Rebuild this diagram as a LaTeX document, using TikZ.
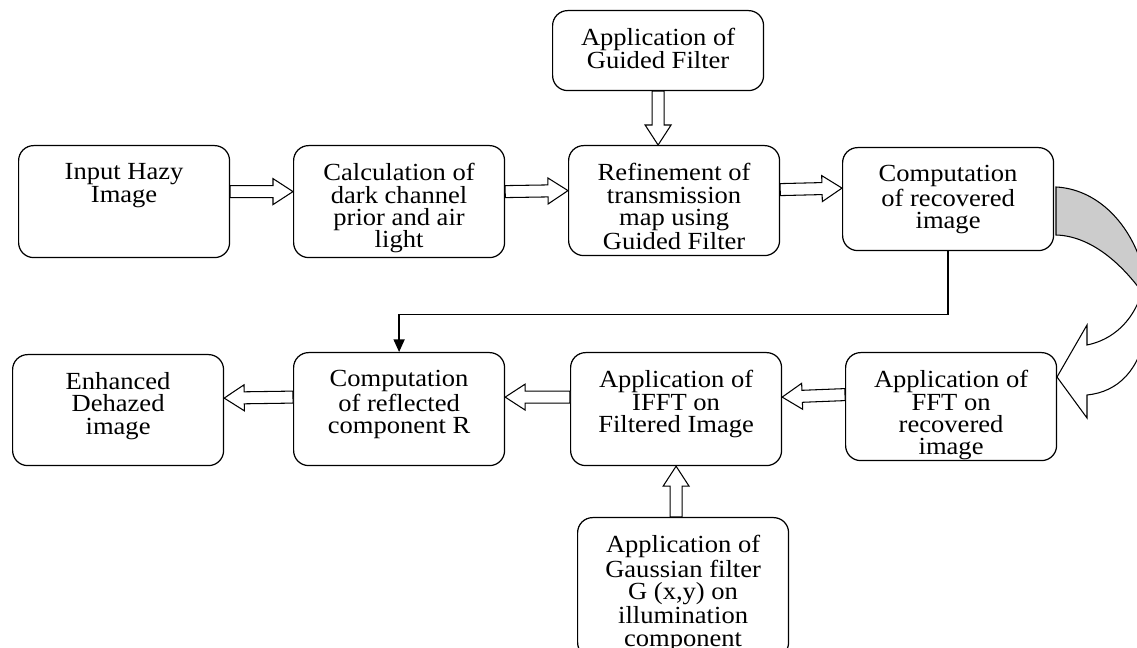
\documentclass[tikz,border=0pt]{standalone}
\usepackage{fontspec}
\setmainfont{Liberation Serif}[FakeStretch=1.08]
\usetikzlibrary{arrows.meta,calc}

\begin{document}
\begin{tikzpicture}[x=0.02cm, y=-0.02cm,
		box/.style={draw, line width=0.7pt, rounded corners=0.3cm, anchor=north west,
			inner xsep=0.11cm, inner ysep=0.36cm,
			execute at begin node={\begin{minipage}[c][#1][t]{4cm}\centering\fontsize{14}{12.7}\selectfont},
			execute at end node={\end{minipage}}},
		hollow/.style={draw, fill=white, line width=0.6pt, line join=miter, to path={
			($(\tikztostart)!0.12cm!90:(\tikztotarget)$)
			-- ($($(\tikztotarget)!0.4cm!(\tikztostart)$)!0.12cm!90:(\tikztotarget)$)
			-- ($($(\tikztotarget)!0.4cm!(\tikztostart)$)!0.26cm!90:(\tikztotarget)$)
			-- (\tikztotarget)
			-- ($($(\tikztotarget)!0.4cm!(\tikztostart)$)!0.26cm!-90:(\tikztotarget)$)
			-- ($($(\tikztotarget)!0.4cm!(\tikztostart)$)!0.12cm!-90:(\tikztotarget)$)
			-- ($(\tikztostart)!0.12cm!-90:(\tikztotarget)$) -- cycle}},
		link/.style={line width=0.7pt, -{Triangle[length=0.25cm, width=0.22cm]}}
		]
	\useasboundingbox (0,0) rectangle (1137,648);
	\clip (0,0) rectangle (1137,648);
	% top row
	\node [box=0.88cm] (gf) at (552,10) {Application of\\Guided Filter};
	\node [box=1.52cm] (inp) at (18,145) {Input Hazy\\Image};
	\node [box=1.52cm] (cal) at (293,145) {Calculation of\\dark channel\\prior and air\\light};
	\node [box=1.48cm] (ref) at (568,145) {Refinement of\\transmission\\map using\\Guided Filter};
	\node [box=1.34cm] (rec) at (842,147) {Computation\\of recovered\\image};
	% bottom row
	\node [box=1.5cm] (enh) at (12,354) {Enhanced\\Dehazed\\image};
	\node [box=1.54cm] (rfl) at (293,352) {Computation\\of reflected\\component R};
	\node [box=1.54cm] (ifft) at (570,352) {Application of\\IFFT on\\Filtered Image};
	\node [box=1.44cm] (fft) at (845,352) {Application of\\FFT on\\recovered\\image};
	\node [box=2.08cm] (gau) at (577,517) {Application of\\Gaussian filter\\G (x,y) on\\illumination\\component};
	% block arrows
	\path[hollow] ([yshift=0.2cm]inp.east) to ([yshift=0.2cm]cal.west);
	\path[hollow] ([yshift=0.2cm]cal.east) to ([yshift=0.2cm]ref.west);
	\path[hollow] ([yshift=0.22cm]ref.east) to ([yshift=0.22cm]rec.west);
	\path[hollow] (gf.south) to (gf.south |- ref.north);
	\path[hollow] ([yshift=0.24cm]fft.west) to ([yshift=0.24cm]ifft.east);
	\path[hollow] ([yshift=0.24cm]ifft.west) to ([yshift=0.24cm]rfl.east);
	\path[hollow] ([yshift=0.24cm]rfl.west) to ([yshift=0.24cm]enh.east);
	\path[hollow] (ifft.south |- gau.north) to (ifft.south);
	\draw[link] (rec.south) -- ++(0,63) -| (rfl.north);
	% curved arrow
	\draw[line width=0.6pt, fill=black!20] (1056,187) .. controls (1095,189) and (1128,220) .. (1142,265)
		-- (1142,292) .. controls (1120,262) and (1090,236) .. (1056,235) -- cycle;
	\draw[line width=0.6pt, fill=white] (1142,292) .. controls (1133,322) and (1112,340) .. (1087,345)
		-- (1087,325) -- (1057,377) -- (1087,418) -- (1087,395)
		.. controls (1118,392) and (1140,370) .. (1146,330) -- (1146,292) -- cycle;
\end{tikzpicture}
\end{document}
